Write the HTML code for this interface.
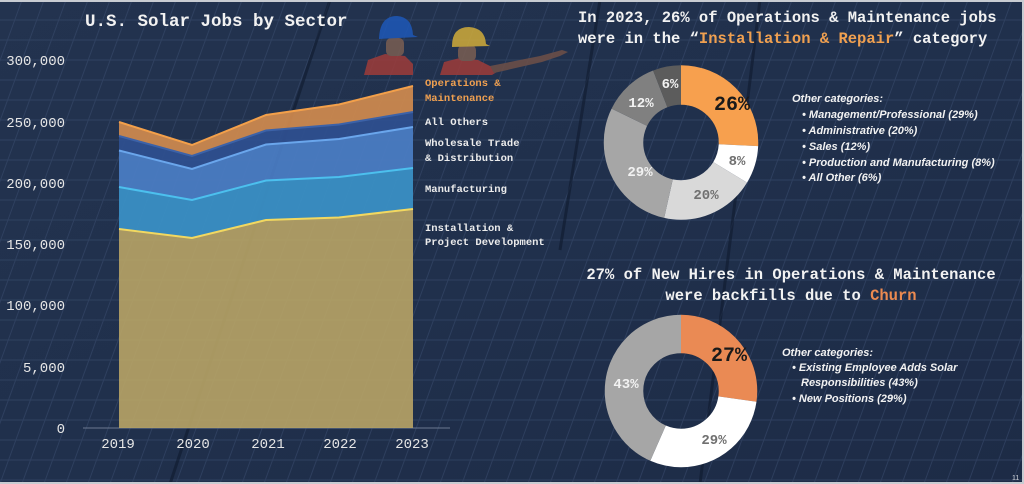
<!DOCTYPE html>
<html><head><meta charset="utf-8"><style>
html,body{margin:0;padding:0}
body{width:1024px;height:484px;overflow:hidden;background:#1f2e4b;font-family:"Liberation Mono",monospace;}
svg{display:block}
</style></head><body>
<svg width="1024" height="484" viewBox="0 0 1024 484" xmlns="http://www.w3.org/2000/svg">
<defs>
<pattern id="cells" width="22" height="20" patternUnits="userSpaceOnUse" patternTransform="skewX(-20)">
<rect width="22" height="20" fill="none" stroke="#3a4d6e" stroke-width="1" opacity="0.55"/>
</pattern>
<linearGradient id="bg" x1="0" y1="0" x2="1" y2="1">
<stop offset="0" stop-color="#23334f"/><stop offset="0.5" stop-color="#20304c"/><stop offset="1" stop-color="#1d2b46"/>
</linearGradient>
</defs>
<rect width="1024" height="484" fill="url(#bg)"/>
<rect width="1024" height="484" fill="url(#cells)"/>
<g stroke="#0f1a2e" stroke-width="3" opacity="0.6">
<line x1="330" y1="0" x2="170" y2="484"/><line x1="760" y1="0" x2="700" y2="484"/><line x1="600" y1="0" x2="560" y2="250"/>
</g>
<rect x="0" y="0" width="1024" height="2" fill="#c8ccd2"/>
<rect x="0" y="482" width="1024" height="2" fill="#c8ccd2"/>
<rect x="1022" y="0" width="2" height="484" fill="#c8ccd2"/>

<!-- workers -->
<g opacity="0.85">
<path d="M364 75 L368 60 L385 54 L405 56 L413 64 L413 75 Z" fill="#9e3c3a"/>
<rect x="386" y="38" width="18" height="18" rx="5" fill="#7a5e52"/>
<path d="M379 38 Q380 16 397 16 Q412 17 413 35 L418 37 L379 39 Z" fill="#1e58b8"/>
<path d="M440 75 L444 62 L460 58 L478 60 L490 66 L500 70 L492 75 Z" fill="#9e3c3a"/>
<path d="M490 66 L540 56 L562 50 L568 52 L560 56 L542 62 L494 73 Z" fill="#6e5048"/>
<rect x="458" y="45" width="18" height="16" rx="5" fill="#7a5e52"/>
<path d="M452 46 Q452 27 469 27 Q485 28 486 44 L490 46 L452 47 Z" fill="#d0ac3a"/>
</g>

<text x="85" y="26" fill="#f2f2f2" font-size="17.5" font-weight="bold" font-family="Liberation Mono,monospace">U.S. Solar Jobs by Sector</text>

<g fill="#e6e6e6" font-size="14" text-anchor="end" font-family="Liberation Mono,monospace">
<text x="65" y="65">300,000</text><text x="65" y="127">250,000</text><text x="65" y="188">200,000</text>
<text x="65" y="249">150,000</text><text x="65" y="310">100,000</text><text x="65" y="372">5,000</text><text x="65" y="433">0</text>
</g>
<line x1="83" y1="428" x2="450" y2="428" stroke="#6b7890" stroke-width="1"/>
<g fill="#e6e6e6" font-size="14" text-anchor="middle" font-family="Liberation Mono,monospace">
<text x="118" y="448">2019</text><text x="193" y="448">2020</text><text x="268" y="448">2021</text><text x="340" y="448">2022</text><text x="412" y="448">2023</text>
</g>

<polygon points="119,122 192,145 266,115 339,104.5 413,86 413,112 339,124.5 266,130.5 192,156 119,136" fill="#d08a4e" opacity="0.92"/>
<polygon points="119,136 192,156 266,130.5 339,124.5 413,112 413,127 339,139 266,144.5 192,169 119,150.5" fill="#2e4f8e" opacity="0.95"/>
<polygon points="119,150.5 192,169 266,144.5 339,139 413,127 413,168 339,177 266,180.5 192,200 119,187" fill="#4b7ec6" opacity="0.92"/>
<polygon points="119,187 192,200 266,180.5 339,177 413,168 413,209 339,217.5 266,220 192,238 119,229" fill="#3a8fc4" opacity="0.95"/>
<polygon points="119,229 192,238 266,220 339,217.5 413,209 413,428 119,428" fill="#b8a466" opacity="0.9"/>
<g fill="none" stroke-width="2">
<polyline points="119,122 192,145 266,115 339,104.5 413,86" stroke="#f3a04a"/>
<polyline points="119,136 192,156 266,130.5 339,124.5 413,112" stroke="#3c62a8"/>
<polyline points="119,150.5 192,169 266,144.5 339,139 413,127" stroke="#6aa6ec"/>
<polyline points="119,187 192,200 266,180.5 339,177 413,168" stroke="#4cc0ee"/>
<polyline points="119,229 192,238 266,220 339,217.5 413,209" stroke="#f2d860"/>
</g>

<g font-size="10.5" font-weight="bold" font-family="Liberation Mono,monospace" fill="#ececec">
<text x="425" y="86" fill="#f0a050">Operations &amp;</text><text x="425" y="101" fill="#f0a050">Maintenance</text>
<text x="425" y="125">All Others</text>
<text x="425" y="146">Wholesale Trade</text><text x="425" y="161">&amp; Distribution</text>
<text x="425" y="192">Manufacturing</text>
<text x="425" y="231">Installation &amp;</text><text x="425" y="245">Project Development</text>
</g>

<g font-size="15.5" font-weight="bold" font-family="Liberation Mono,monospace" fill="#f2f2f2">
<text x="578" y="22">In 2023, 26% of Operations &amp; Maintenance jobs</text>
<text x="578" y="43">were in the “<tspan fill="#f0a050">Installation &amp; Repair</tspan>” category</text>
<text x="791" y="279" text-anchor="middle">27% of New Hires in Operations &amp; Maintenance</text>
<text x="791" y="300" text-anchor="middle">were backfills due to <tspan fill="#ec8a50">Churn</tspan></text>
</g>

<g transform="rotate(-90 681 142.5)" fill="none" stroke-width="39.5">
<circle cx="681" cy="142.5" r="57.5" stroke="#f7a04e" stroke-dasharray="93 400" stroke-dashoffset="0"/>
<circle cx="681" cy="142.5" r="57.5" stroke="#ffffff" stroke-dasharray="28.6 400" stroke-dashoffset="-93"/>
<circle cx="681" cy="142.5" r="57.5" stroke="#d9d9d9" stroke-dasharray="71.5 400" stroke-dashoffset="-121.6"/>
<circle cx="681" cy="142.5" r="57.5" stroke="#a6a6a6" stroke-dasharray="103.7 400" stroke-dashoffset="-193.1"/>
<circle cx="681" cy="142.5" r="57.5" stroke="#808080" stroke-dasharray="42.9 400" stroke-dashoffset="-296.8"/>
<circle cx="681" cy="142.5" r="57.5" stroke="#5c5c5c" stroke-dasharray="21.6 400" stroke-dashoffset="-339.7"/>
</g>
<g font-family="Liberation Mono,monospace" font-weight="bold" text-anchor="middle">
<text x="732" y="110" font-size="20" fill="#1a1a1a">26%</text>
<text x="737" y="165" font-size="14" fill="#707070">8%</text>
<text x="706" y="199" font-size="14" fill="#707070">20%</text>
<text x="640" y="176" font-size="14" fill="#f2f2f2">29%</text>
<text x="641" y="107" font-size="14" fill="#f2f2f2">12%</text>
<text x="670" y="88" font-size="14" fill="#f2f2f2">6%</text>
</g>

<g transform="rotate(-90 681 391)" fill="none" stroke-width="38.5">
<circle cx="681" cy="391" r="57" stroke="#ea8a54" stroke-dasharray="97.6 400" stroke-dashoffset="0"/>
<circle cx="681" cy="391" r="57" stroke="#ffffff" stroke-dasharray="104.9 400" stroke-dashoffset="-97.6"/>
<circle cx="681" cy="391" r="57" stroke="#a6a6a6" stroke-dasharray="155.7 400" stroke-dashoffset="-202.5"/>
</g>
<g font-family="Liberation Mono,monospace" font-weight="bold" text-anchor="middle">
<text x="729" y="361" font-size="20" fill="#1a1a1a">27%</text>
<text x="714" y="444" font-size="14" fill="#707070">29%</text>
<text x="626" y="388" font-size="14" fill="#f2f2f2">43%</text>
</g>

<g font-family="Liberation Sans,sans-serif" font-style="italic" font-weight="bold" font-size="11" fill="#f2f2f2">
<text x="792" y="102">Other categories:</text>
<text x="802" y="118">•  Management/Professional (29%)</text>
<text x="802" y="134">•  Administrative (20%)</text>
<text x="802" y="150">•  Sales (12%)</text>
<text x="802" y="166">•  Production and Manufacturing (8%)</text>
<text x="802" y="181">•  All Other (6%)</text>
<text x="782" y="356">Other categories:</text>
<text x="792" y="371">•  Existing Employee Adds Solar</text>
<text x="801" y="386">Responsibilities (43%)</text>
<text x="792" y="402">•  New Positions (29%)</text>
</g>
<text x="1012" y="480" font-size="7" fill="#cfd3da" font-family="Liberation Sans,sans-serif">11</text>
</svg>
</body></html>
